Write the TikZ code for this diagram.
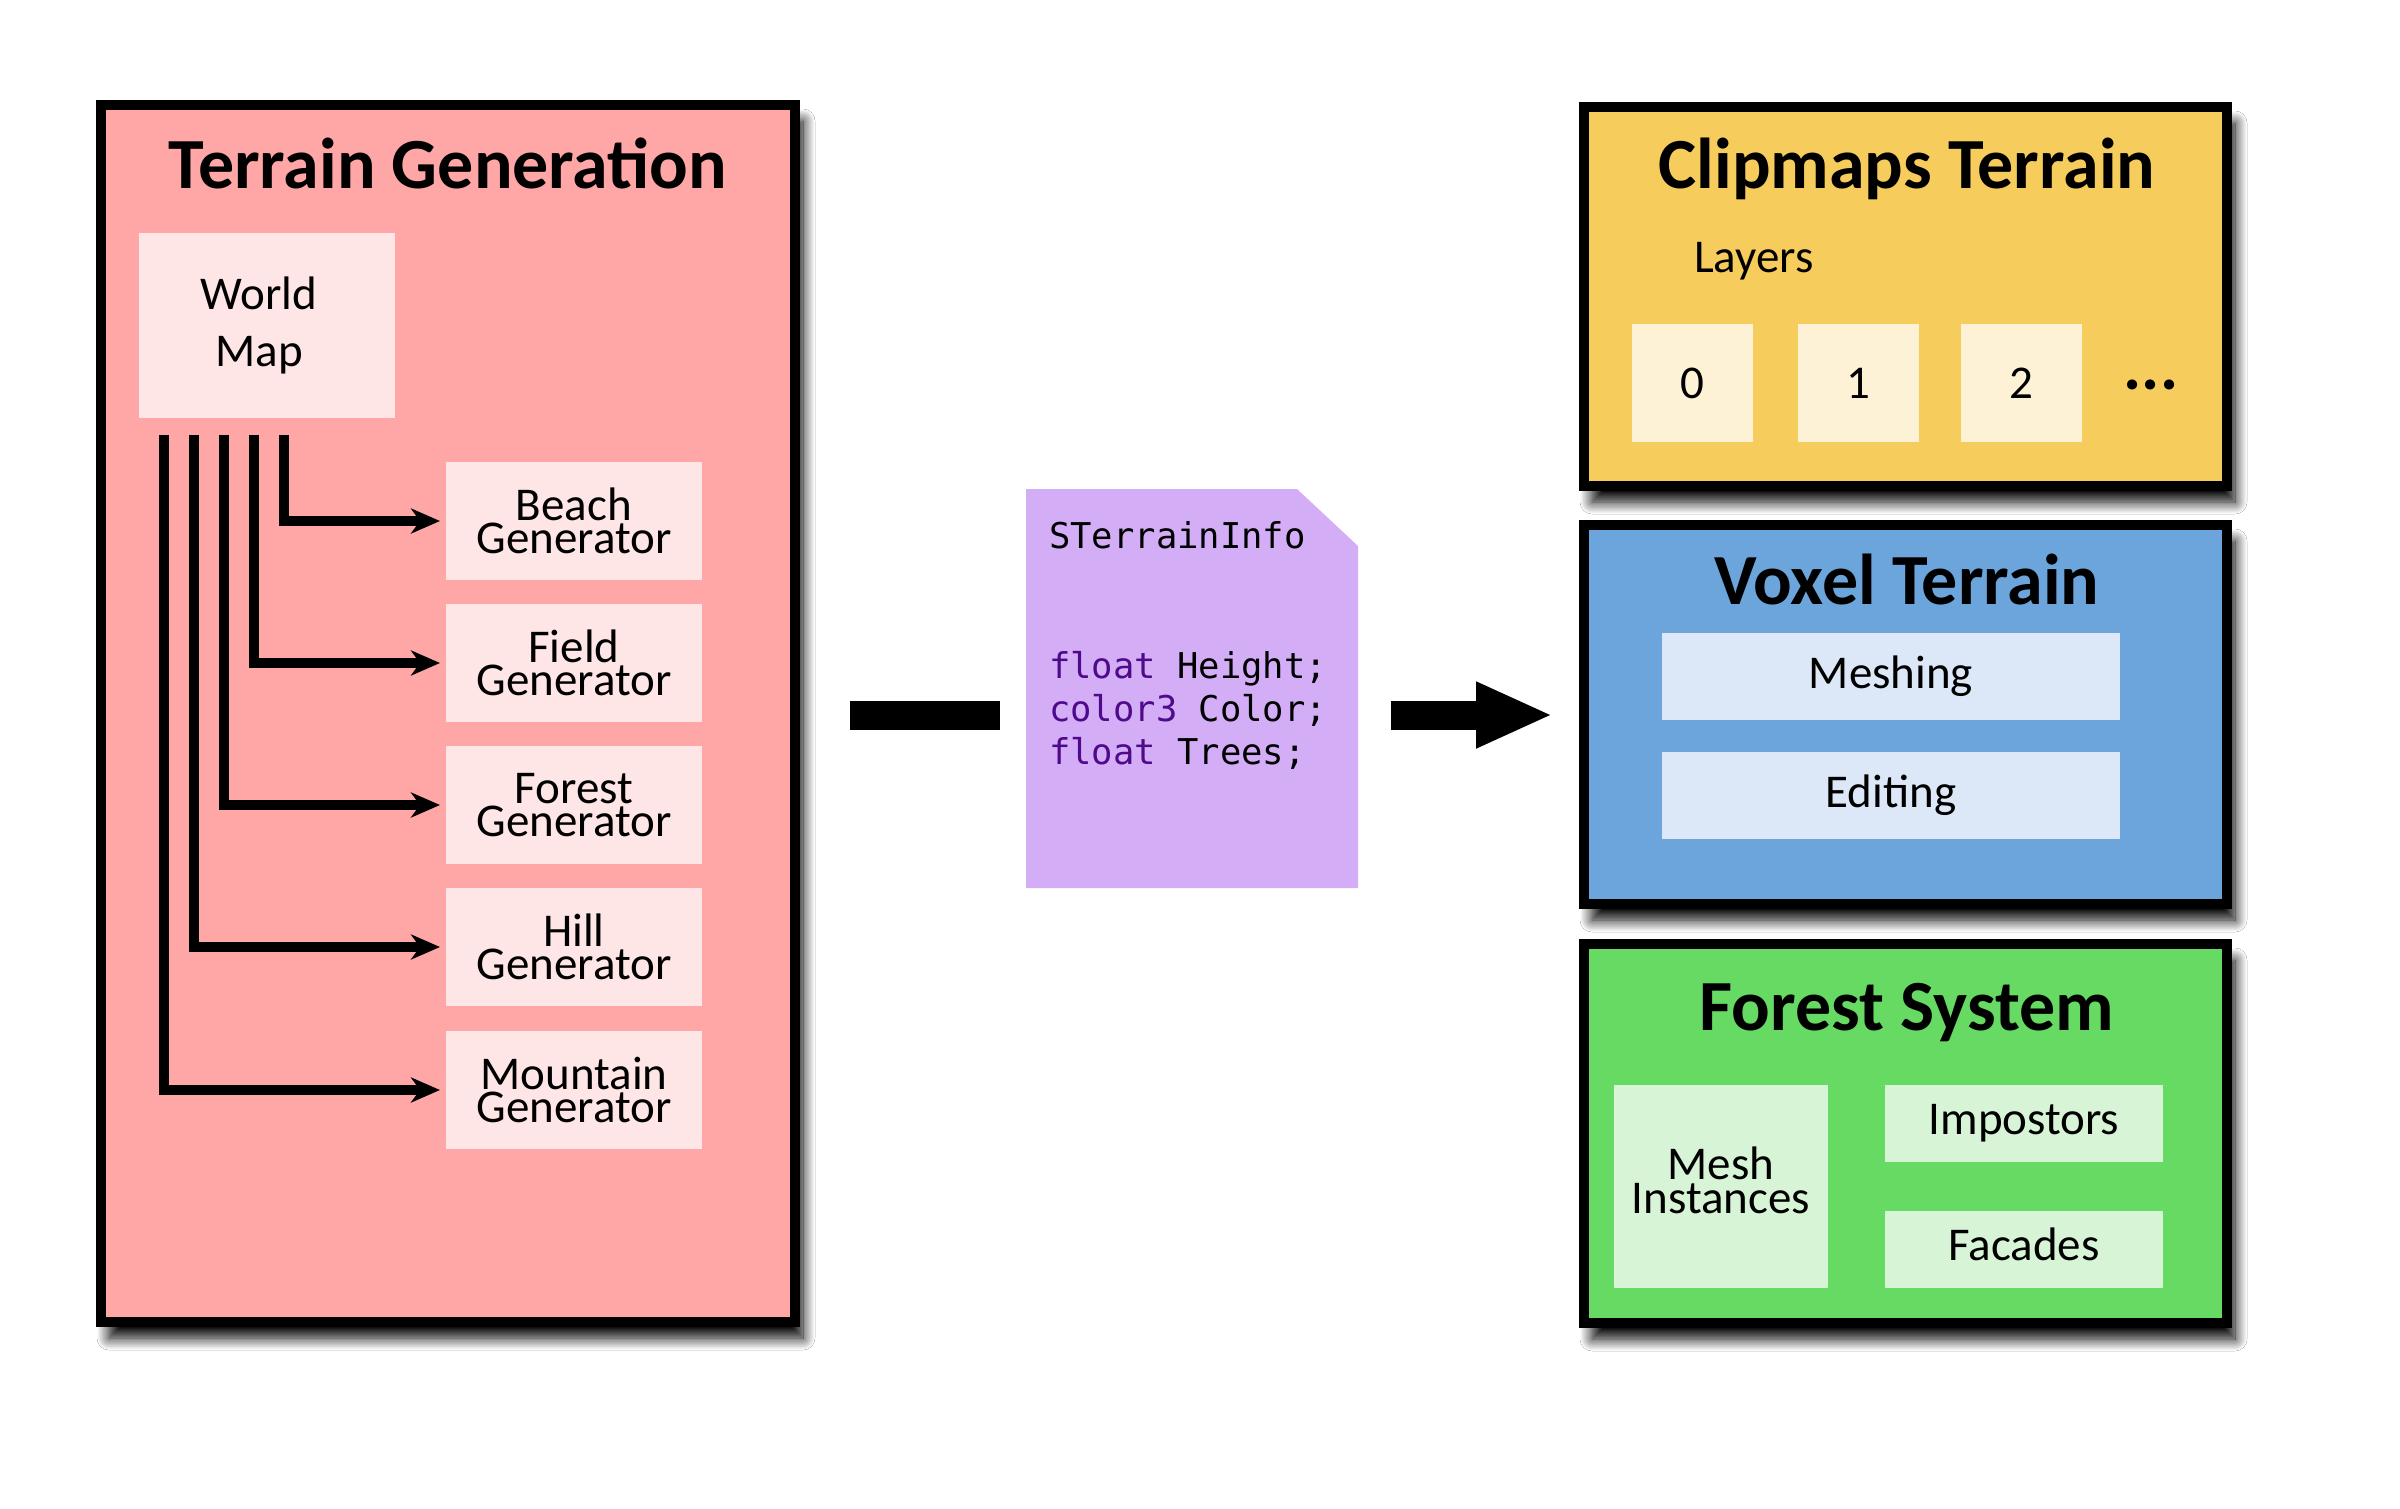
\documentclass[tikz,border=0pt]{standalone}
\usepackage{fontspec}
\setmainfont{Carlito}
\newfontfamily\codefont{DejaVu Sans Mono}
\usetikzlibrary{arrows.meta,shadows.blur}
\definecolor{tgred}{HTML}{FFA6A6}
\definecolor{tgin}{HTML}{FFE6E6}
\definecolor{notep}{HTML}{D4ADF7}
\definecolor{kw}{HTML}{4F0A8C}
\definecolor{clipy}{HTML}{F6CD5D}
\definecolor{clipin}{HTML}{FDF1D6}
\definecolor{voxb}{HTML}{6CA5DC}
\definecolor{voxin}{HTML}{DCE8F7}
\definecolor{forg}{HTML}{66DA62}
\definecolor{forin}{HTML}{D8F4D7}
\begin{document}
\begin{tikzpicture}[x=1pt,y=-1pt,
  bigbox/.style={draw=black, line width=10pt, inner sep=0pt, outer sep=0pt,
    blur shadow={shadow xshift=8pt, shadow yshift=-16pt, shadow blur radius=12pt,
      shadow blur steps=16, shadow opacity=100}},
  innerbox/.style={inner sep=0pt, outer sep=0pt, align=center, font=\fontsize{47}{33}\selectfont},
  gen/.style={innerbox, fill=tgin, minimum width=256pt, minimum height=118pt},
  layerbox/.style={innerbox, fill=clipin, minimum width=121pt, minimum height=118pt},
  voxbox/.style={innerbox, fill=voxin, minimum width=458pt, minimum height=87pt},
  forbox/.style={innerbox, fill=forin, minimum width=278pt, minimum height=77pt},
  titletext/.style={anchor=base, inner sep=0pt, font=\bfseries\fontsize{72}{84}\selectfont},
  plaintext/.style={anchor=base west, inner sep=0pt, font=\fontsize{47}{55}\selectfont},
  codetext/.style={anchor=base west, inner sep=0pt, font=\codefont\fontsize{35.5}{43}\selectfont},
  conn/.style={line width=10pt, -{Stealth[length=29pt,width=25pt,inset=9pt]}},
  bar/.style={line width=29pt}
]
\fill[white] (0,0) rectangle (2400,1509);
\useasboundingbox (0,0) rectangle (2400,1509);

% ---------- Terrain Generation ----------
\node[bigbox, fill=tgred, minimum width=694pt, minimum height=1217pt] (tg) at (448,713.5) {};
\node[titletext] (tgt) at (448,188) {Terrain Generation};
\node[innerbox, fill=tgin, minimum width=256pt, minimum height=185pt,
      font=\fontsize{47}{57}\selectfont] (wm) at (267,325.5) {World\hspace*{16pt}\\Map\hspace*{16pt}};

\node[gen] (beach) at (574,521) {Beach\\Generator};
\node[gen] (field) at (574,663) {Field\\Generator};
\node[gen] (forestg) at (574,805) {Forest\\Generator};
\node[gen] (hill) at (574,947) {Hill\\Generator};
\node[gen] (mount) at (574,1090) {Mountain\\Generator};

\coordinate (l1) at (284,435);
\coordinate (l2) at (254,435);
\coordinate (l3) at (224,435);
\coordinate (l4) at (194,435);
\coordinate (l5) at (164,435);
\draw[conn] (l1) |- ([xshift=-6pt]beach.west);
\draw[conn] (l2) |- ([xshift=-6pt]field.west);
\draw[conn] (l3) |- ([xshift=-6pt]forestg.west);
\draw[conn] (l4) |- ([xshift=-6pt]hill.west);
\draw[conn] (l5) |- ([xshift=-6pt]mount.west);

% ---------- middle ----------
\coordinate (b1) at (850,715);
\coordinate (b2) at (1000,715);
\draw[bar] (b1) -- (b2);

\coordinate (n1) at (1026,489);
\coordinate (n2) at (1297,489);
\coordinate (n3) at (1358,546);
\coordinate (n4) at (1358,888);
\coordinate (n5) at (1026,888);
\fill[notep] (n1) -- (n2) -- (n3) -- (n4) -- (n5) -- cycle;
\node[codetext] (sti) at (1049,548) {STerrainInfo};
\node[codetext] (c1) at (1049,678) {\textcolor{kw}{float} Height;};
\node[codetext] (c2) at (1049,721) {\textcolor{kw}{color3} Color;};
\node[codetext] (c3) at (1049,764) {\textcolor{kw}{float} Trees;};

\coordinate (a1) at (1391,715);
\coordinate (a2) at (1553,715);
\draw[bar, -{Triangle[length=77pt,width=61pt]}] (a1) -- (a2);

% ---------- Clipmaps Terrain ----------
\node[bigbox, fill=clipy, minimum width=643pt, minimum height=379pt] (cm) at (1905.5,296.5) {};
\node[titletext] (cmt) at (1907,188) {Clipmaps Terrain};
\node[plaintext] (layers) at (1694,272) {Layers};
\node[layerbox] (L0) at (1692.5,383) {0};
\node[layerbox] (L1) at (1858.5,383) {1};
\node[layerbox] (L2) at (2021.5,383) {2};
\node[anchor=base, inner sep=0pt, font=\bfseries\fontsize{68}{70}\selectfont] (dots) at (2151,389) {...};

% ---------- Voxel Terrain ----------
\node[bigbox, fill=voxb, minimum width=643pt, minimum height=379pt] (vt) at (1905.5,714.5) {};
\node[titletext] (vtt) at (1907,604) {Voxel Terrain};
\node[voxbox] (mesh) at (1891,676.5) {Meshing};
\node[voxbox] (edit) at (1891,795.5) {Editing};

% ---------- Forest System ----------
\node[bigbox, fill=forg, minimum width=643pt, minimum height=379pt] (fs) at (1905.5,1133.5) {};
\node[titletext] (fst) at (1907,1030) {Forest System};
\node[innerbox, fill=forin, minimum width=214pt, minimum height=203pt,
      font=\fontsize{47}{34}\selectfont] (mi) at (1721,1186.5) {Mesh\\Instances\\[-22pt]};
\node[forbox] (imp) at (2024,1123.5) {Impostors};
\node[forbox] (fac) at (2024,1249.5) {Facades\rule[-10pt]{0pt}{10pt}};
\end{tikzpicture}
\end{document}
